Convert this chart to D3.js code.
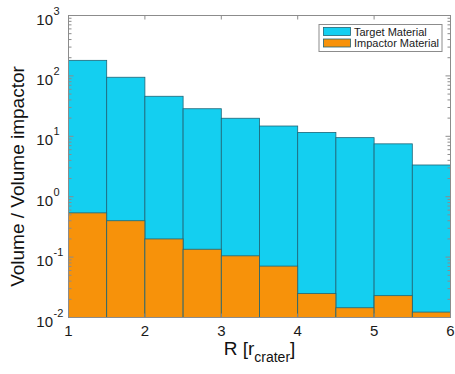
<!DOCTYPE html>
<html lang="en">
<head>
  <meta charset="UTF-8">
  <title>Volume ratio</title>
  <style>
    body {
      margin: 0;
      background-color: white;
      font-family: "Liberation Sans", Arial, sans-serif;
    }
    .bar {
      stroke: #1f6577;
      stroke-width: 0.8;
    }
    .tick-label {
      font-size: 15px;
      fill: #1a1a1a;
    }
    .legend-text {
      font-size: 11px;
      fill: #1a1a1a;
    }
  </style>
</head>
<body>
  <svg id="chart" width="455" height="374"></svg>

  <script src="https://cdnjs.cloudflare.com/ajax/libs/d3/7.8.5/d3.min.js"></script>
  <script>
    // bin edges along R (in crater radii)
    var binStart = [1, 1.5, 2, 2.5, 3, 3.5, 4, 4.5, 5, 5.5];
    var binWidth = 0.5;
    var targetVolume = [181, 95, 46, 28.6, 19.9, 14.8, 11.6, 9.5, 7.5, 3.35];
    var impactorVolume = [0.54, 0.40, 0.20, 0.135, 0.105, 0.071, 0.025, 0.0145, 0.023, 0.0123];
    var xTicks = [1, 2, 3, 4, 5, 6];
    var yExponents = [-2, -1, 0, 1, 2, 3];
    var seriesNames = ["Target Material", "Impactor Material"];
    var seriesColors = ["#14cff0", "#f7920a"];

    // plot box (note: "top" is taken by window.top, so use other names)
    var plotLeft = 68.5, plotRight = 450.5, plotTop = 15.5, plotBottom = 317.5;

    var svg = d3.select("#chart");

    var x = d3.scaleLinear().domain([1, 6]).range([plotLeft, plotRight]);
    var y = d3.scaleLog().domain([0.01, 1000]).range([plotBottom, plotTop]);

    var allSeries = [targetVolume, impactorVolume];

    allSeries.forEach(function(values, s) {
      svg.append("g").selectAll("rect")
        .data(values)
        .enter().append("rect")
        .attr("class", "bar")
        .attr("fill", seriesColors[s])
        .attr("x", function(d, i) { return x(binStart[i]); })
        .attr("width", function(d, i) { return x(binStart[i] + binWidth) - x(binStart[i]); })
        .attr("y", function(d) { return y(d); })
        .attr("height", function(d) { return plotBottom - y(d); });
    });

    // frame
    svg.append("rect")
      .attr("x", plotLeft).attr("y", plotTop)
      .attr("width", plotRight - plotLeft).attr("height", plotBottom - plotTop)
      .attr("fill", "none")
      .attr("stroke", "#8c8c8c")
      .attr("stroke-width", 1);

    // inward ticks, MATLAB style
    var tickGroup = svg.append("g").attr("stroke", "#8c8c8c").attr("stroke-width", 1);

    xTicks.forEach(function(t) {
      tickGroup.append("line")
        .attr("x1", x(t)).attr("x2", x(t))
        .attr("y1", plotBottom).attr("y2", plotBottom - 4);
      tickGroup.append("line")
        .attr("x1", x(t)).attr("x2", x(t))
        .attr("y1", plotTop).attr("y2", plotTop + 4);
    });

    yExponents.forEach(function(e) {
      var base = Math.pow(10, e);
      tickGroup.append("line")
        .attr("x1", plotLeft).attr("x2", plotLeft + 5)
        .attr("y1", y(base)).attr("y2", y(base));
      tickGroup.append("line")
        .attr("x1", plotRight).attr("x2", plotRight - 5)
        .attr("y1", y(base)).attr("y2", y(base));
      if (e < 3) {
        for (var m = 2; m <= 9; m++) {
          var v = m * base;
          tickGroup.append("line")
            .attr("x1", plotLeft).attr("x2", plotLeft + 3)
            .attr("y1", y(v)).attr("y2", y(v));
          tickGroup.append("line")
            .attr("x1", plotRight).attr("x2", plotRight - 3)
            .attr("y1", y(v)).attr("y2", y(v));
        }
      }
    });

    // x tick labels
    svg.append("g").selectAll("text")
      .data(xTicks)
      .enter().append("text")
      .attr("class", "tick-label")
      .attr("x", function(d) { return x(d); })
      .attr("y", plotBottom + 18)
      .attr("text-anchor", "middle")
      .text(function(d) { return d; });

    // y tick labels as 10^n
    svg.append("g").selectAll("text")
      .data(yExponents)
      .enter().append("text")
      .attr("class", "tick-label")
      .attr("x", 53)
      .attr("y", function(d) { return y(Math.pow(10, d)) + 9; })
      .attr("text-anchor", "end")
      .text("10");

    svg.append("g").selectAll("text")
      .data(yExponents)
      .enter().append("text")
      .attr("class", "tick-label")
      .style("font-size", "11px")
      .attr("x", 53.5)
      .attr("y", function(d) { return y(Math.pow(10, d)) - 1; })
      .text(function(d) { return d < 0 ? "-" + Math.abs(d) : d; });

    // axis titles
    svg.append("text")
      .attr("transform", "translate(24," + ((plotTop + plotBottom) / 2 + 10) + ") rotate(-90)")
      .attr("text-anchor", "middle")
      .style("font-size", "19px")
      .attr("fill", "#111")
      .text("Volume / Volume impactor");

    var xt = svg.append("text")
      .attr("x", (plotLeft + plotRight) / 2)
      .attr("y", 355)
      .attr("text-anchor", "middle")
      .style("font-size", "19px")
      .attr("fill", "#111");
    xt.append("tspan").text("R [r");
    xt.append("tspan").attr("dy", 7).style("font-size", "14px").text("crater");
    xt.append("tspan").attr("dy", -7).text("]");

    // legend
    var legend = svg.append("g");
    legend.append("rect")
      .attr("x", 319).attr("y", 24.5)
      .attr("width", 123).attr("height", 27)
      .attr("fill", "white")
      .attr("stroke", "#8c8c8c")
      .attr("stroke-width", 1);

    seriesNames.forEach(function(name, i) {
      legend.append("rect")
        .attr("class", "bar")
        .attr("x", 323.5).attr("y", 27.5 + i * 11.5)
        .attr("width", 27).attr("height", 8)
        .attr("fill", seriesColors[i]);
      legend.append("text")
        .attr("class", "legend-text")
        .attr("x", 354)
        .attr("y", 35.5 + i * 11.5)
        .text(name);
    });
  </script>
</body>
</html>
